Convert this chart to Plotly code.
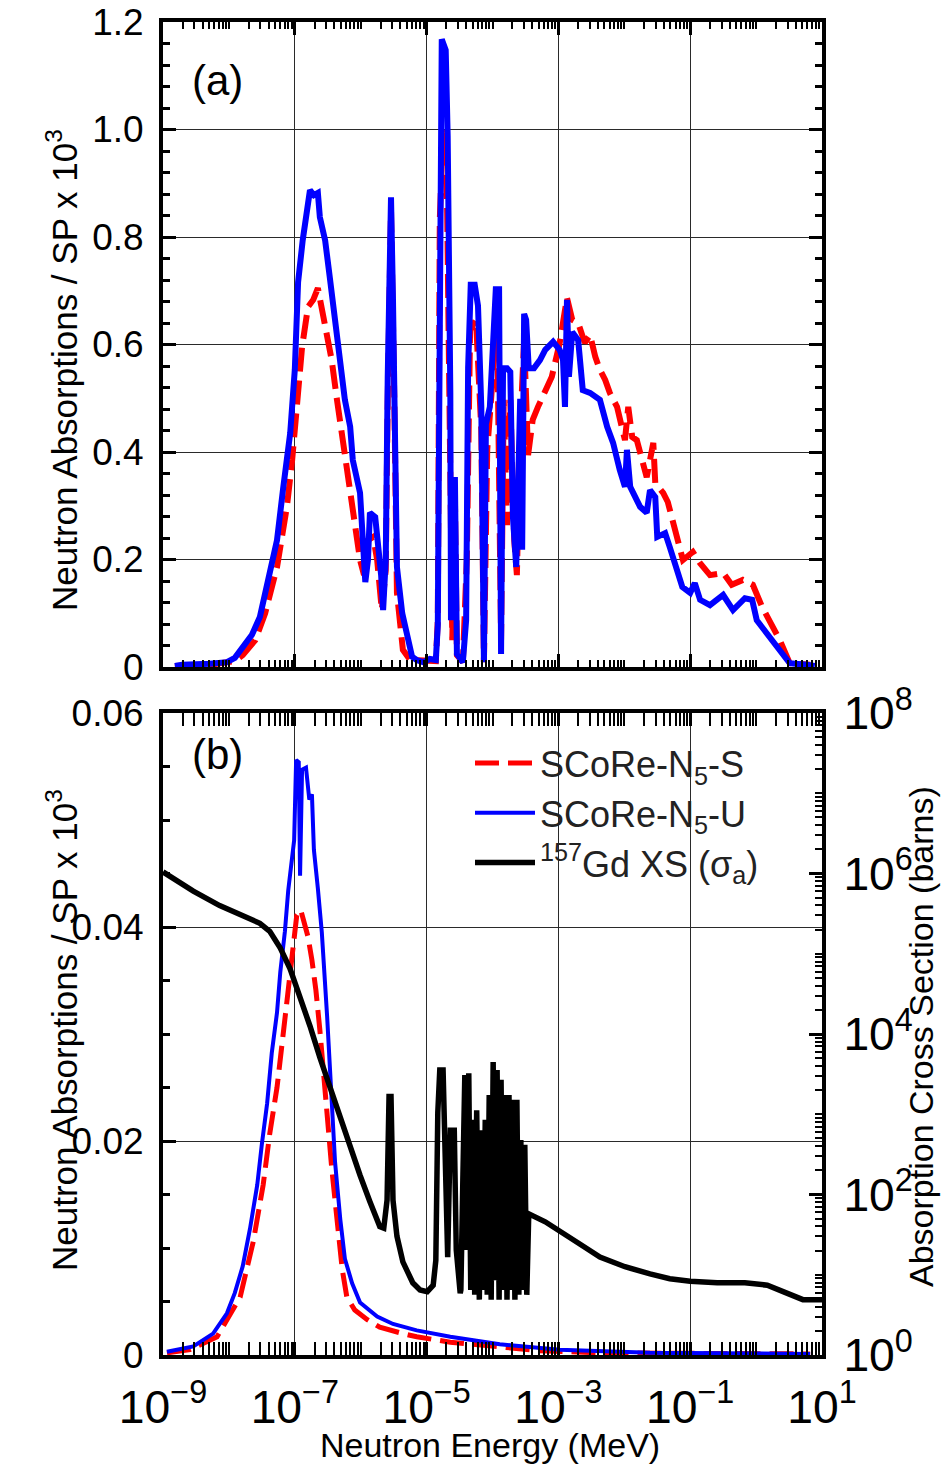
import numpy as np
import plotly.graph_objects as go

# ---------------- data (log10 of neutron energy in MeV) ----------------
# Panel (a): SCoRe-N5-U (blue)
top_u_logE = [-8.82,-8.71,-8.29,-8.03,-7.91,-7.79,-7.65,-7.53,-7.41,-7.27,-7.18,-7.07,-7.00,-6.95,-6.88,-6.77,-6.71,-6.65,-6.62,-6.54,
              -6.47,-6.39,-6.31,-6.24,-6.16,-6.12,-6.01,-5.97,-5.93,-5.89,-5.86,-5.78,-5.74,-5.69,-5.66,-5.62,-5.59,-5.54,-5.51,-5.48,
              -5.45,-5.37,-5.30,-5.22,-5.15,-5.05,-4.95,-4.86,-4.83,-4.80,-4.77,-4.71,-4.68,-4.64,-4.63,-4.60,-4.57,-4.54,-4.45,-4.40,
              -4.37,-4.33,-4.27,-4.22,-4.17,-4.13,-4.10,-4.04,-3.99,-3.95,-3.90,-3.87,-3.84,-3.78,-3.73,-3.69,-3.64,-3.61,-3.58,-3.55,
              -3.52,-3.49,-3.45,-3.37,-3.28,-3.20,-3.08,-2.98,-2.93,-2.90,-2.87,-2.84,-2.79,-2.70,-2.63,-2.52,-2.37,-2.26,-2.17,-2.07,
              -1.99,-1.96,-1.91,-1.76,-1.66,-1.61,-1.53,-1.50,-1.38,-1.31,-1.20,-1.12,-1.00,-0.93,-0.85,-0.70,-0.50,-0.35,-0.17,-0.06,
              0.01,0.21,0.36,0.51,0.77,0.89]
top_u_val = [0.002,0.004,0.006,0.009,0.017,0.037,0.060,0.093,0.162,0.236,0.329,0.435,0.553,0.716,0.794,0.887,0.878,0.882,0.837,0.794,
             0.726,0.640,0.571,0.497,0.447,0.385,0.324,0.236,0.158,0.199,0.287,0.279,0.236,0.171,0.106,0.199,0.540,0.874,0.683,0.465,
             0.186,0.100,0.056,0.019,0.013,0.009,0.015,0.013,0.078,0.683,1.168,1.148,0.988,0.510,0.087,0.348,0.348,0.024,0.009,0.087,
             0.556,0.711,0.711,0.672,0.484,0.009,0.452,0.484,0.618,0.703,0.703,0.024,0.556,0.556,0.549,0.279,0.186,0.311,0.499,0.218,
             0.657,0.646,0.556,0.556,0.571,0.590,0.605,0.590,0.571,0.484,0.683,0.540,0.623,0.608,0.515,0.510,0.497,0.447,0.417,0.367,
             0.335,0.404,0.335,0.298,0.287,0.329,0.316,0.242,0.249,0.223,0.175,0.149,0.138,0.156,0.125,0.115,0.134,0.106,0.128,0.125,
             0.087,0.056,0.032,0.007,0.004,0.002]

# Panel (a): SCoRe-N5-S (red dashed)
top_s_logE = [-8.82,-8.29,-7.91,-7.79,-7.60,-7.45,-7.27,-7.12,-7.04,-6.95,-6.89,-6.80,-6.72,-6.65,-6.57,-6.50,-6.44,-6.36,-6.24,-6.12,
              -6.01,-5.95,-5.89,-5.81,-5.75,-5.68,-5.62,-5.59,-5.54,-5.49,-5.45,-5.36,-5.25,-4.86,-4.83,-4.80,-4.75,-4.69,-4.64,-4.61,
              -4.57,-4.54,-4.45,-4.39,-4.34,-4.25,-4.17,-4.13,-4.08,-3.99,-3.93,-3.87,-3.83,-3.78,-3.73,-3.67,-3.63,-3.58,-3.52,-3.46,
              -3.39,-3.31,-3.25,-3.17,-3.10,-2.98,-2.87,-2.79,-2.70,-2.60,-2.52,-2.44,-2.37,-2.29,-2.22,-2.11,-2.07,-1.99,-1.94,-1.88,
              -1.81,-1.73,-1.66,-1.61,-1.56,-1.53,-1.41,-1.34,-1.23,-1.19,-1.11,-1.03,-0.96,-0.85,-0.70,-0.50,-0.37,-0.20,-0.05,0.09,
              0.26,0.36,0.51,0.82]
top_s_val = [0.002,0.004,0.011,0.022,0.050,0.100,0.186,0.298,0.385,0.510,0.595,0.670,0.683,0.705,0.659,0.608,0.571,0.497,0.398,0.305,
             0.199,0.171,0.236,0.242,0.199,0.106,0.180,0.497,0.850,0.497,0.138,0.032,0.013,0.011,0.087,0.832,0.999,0.869,0.404,0.050,
             0.311,0.022,0.009,0.199,0.627,0.646,0.441,0.009,0.404,0.571,0.646,0.050,0.497,0.264,0.497,0.236,0.171,0.441,0.608,0.394,
             0.460,0.484,0.500,0.527,0.540,0.603,0.687,0.646,0.640,0.603,0.618,0.577,0.553,0.534,0.510,0.484,0.465,0.422,0.484,0.428,
             0.422,0.385,0.353,0.385,0.417,0.342,0.324,0.307,0.255,0.236,0.199,0.207,0.214,0.193,0.171,0.175,0.153,0.162,0.153,0.112,
             0.074,0.050,0.007,0.004]

# Panel (b): SCoRe-N5-U (blue)
bot_u_logE = [-8.94,-8.54,-8.24,-8.03,-7.91,-7.79,-7.68,-7.57,-7.50,-7.42,-7.35,-7.27,-7.22,-7.15,-7.10,-7.04,-7.01,-6.98,-6.94,-6.92,
              -6.89,-6.83,-6.78,-6.74,-6.71,-6.65,-6.59,-6.51,-6.44,-6.39,-6.31,-6.24,-6.13,-6.01,-5.75,-5.51,-5.15,-4.64,-3.89,-2.98,
              -1.61,0.82]
bot_u_val = [0.0003,0.0008,0.0020,0.0039,0.0058,0.0083,0.0118,0.0159,0.0197,0.0235,0.0282,0.0320,0.0358,0.0396,0.0434,0.0463,0.0481,0.0556,0.0554,0.0448,
             0.0547,0.0549,0.0519,0.0524,0.0472,0.0436,0.0395,0.0317,0.0238,0.0181,0.0127,0.0090,0.0067,0.0049,0.0036,0.0029,0.0023,0.0017,0.0010,0.0005,
             0.0002,0.0001]

# Panel (b): SCoRe-N5-S (red dashed)
bot_s_logE = [-8.94,-8.59,-8.18,-7.83,-7.63,-7.48,-7.38,-7.27,-7.18,-7.10,-7.03,-6.97,-6.91,-6.85,-6.80,-6.74,-6.68,-6.62,-6.56,-6.50,
              -6.44,-6.36,-6.28,-6.21,-6.09,-5.90,-5.71,-5.36,-5.15,-4.64,-3.89,-3.28,-2.37,0.82]
bot_s_val = [0.0002,0.0005,0.0017,0.0054,0.0106,0.0159,0.0207,0.0250,0.0298,0.0339,0.0371,0.0411,0.0416,0.0402,0.0391,0.0369,0.0341,0.0304,0.0262,0.0210,
             0.0175,0.0127,0.0080,0.0054,0.0042,0.0033,0.0026,0.0020,0.0017,0.0012,0.0007,0.0004,0.0002,0.0001]

# Panel (b): 157Gd absorption cross section, log10(barns)
xs_logE = [-9.00,-8.54,-8.14,-7.79,-7.53,-7.38,-7.22,-7.07,-6.92,-6.77,-6.62,-6.47,-6.31,-6.16,-6.01,-5.86,-5.71,-5.65,-5.60,-5.57,
           -5.54,-5.51,-5.45,-5.36,-5.21,-5.10,-4.99,-4.90,-4.86,-4.83,-4.80,-4.75,-4.71,-4.68,-4.64,-4.58,-4.55,-4.49,
           -4.48,-4.45,-4.42,-4.39,-4.36,-4.33,-4.30,-4.27,-4.24,-4.20,-4.17,-4.14,-4.11,-4.08,-4.05,-4.02,-3.99,-3.96,-3.93,-3.90,
           -3.87,-3.84,-3.81,-3.78,-3.75,-3.72,-3.69,-3.66,-3.63,-3.60,-3.57,-3.54,-3.51,-3.48,-3.45,
           -3.20,-2.98,-2.67,-2.37,-1.99,-1.61,-1.31,-1.00,-0.59,-0.17,0.17,0.41,0.71,1.00]
xs_log_barns = [6.02,5.78,5.60,5.48,5.38,5.28,5.07,4.81,4.47,4.10,3.71,3.34,2.97,2.58,2.24,1.91,1.60,1.58,1.93,3.22,
                3.22,1.93,1.48,1.16,0.90,0.81,0.79,0.87,1.18,3.02,3.55,3.55,1.93,1.22,2.80,2.80,1.31,0.77,
                0.81,2.18,3.49,1.31,3.51,0.81,2.93,0.75,3.05,0.69,2.80,0.81,2.93,0.75,3.24,0.69,3.65,0.93,3.55,0.69,
                3.43,0.81,3.24,0.69,3.24,0.81,3.18,0.69,3.18,0.75,2.68,0.81,2.62,0.75,1.76,
                1.66,1.55,1.38,1.22,1.10,1.01,0.95,0.92,0.90,0.90,0.87,0.79,0.69,0.69]

names = ["SCoRe-N<sub>5</sub>-S", "SCoRe-N<sub>5</sub>-U", "<sup>157</sup>Gd XS (σ<sub>a</sub>)"]

def E(lst):
    return 10.0 ** np.array(lst)

RED, BLUE, BLACK = "#FF0000", "#0000FF", "#000000"
DASH = "24px,9px"
FONT = "Arial, Liberation Sans, sans-serif"

# page has an 8px body margin: figure is sized to fit inside the 950x1473 window
W, H, M = 934, 1457, 8
def px(sx):  # window pixel -> paper x
    return (sx - M) / W
def py(sy):  # window pixel -> paper y
    return 1 - (sy - M) / H

fig = go.Figure()
# panel (a)
fig.add_trace(go.Scatter(x=E(top_s_logE), y=top_s_val, mode="lines", line=dict(color=RED, width=6, dash=DASH),
                         showlegend=False, xaxis="x", yaxis="y"))
fig.add_trace(go.Scatter(x=E(top_u_logE), y=top_u_val, mode="lines", line=dict(color=BLUE, width=6),
                         showlegend=False, xaxis="x", yaxis="y"))
# panel (b)
fig.add_trace(go.Scatter(x=E(bot_s_logE), y=bot_s_val, mode="lines", name=names[0],
                         line=dict(color=RED, width=5, dash=DASH), xaxis="x2", yaxis="y2"))
fig.add_trace(go.Scatter(x=E(bot_u_logE), y=bot_u_val, mode="lines", name=names[1],
                         line=dict(color=BLUE, width=4), xaxis="x2", yaxis="y2"))
fig.add_trace(go.Scatter(x=E(xs_logE), y=E(xs_log_barns), mode="lines", name=names[2],
                         line=dict(color=BLACK, width=5.5), xaxis="x2", yaxis="y3"))

XDOM = [px(163), px(822)]
TOPDOM = [py(667), py(22)]
BOTDOM = [py(1355), py(713)]

common = dict(showline=True, linewidth=4, linecolor="black", ticks="inside", ticklen=13, tickwidth=3,
              tickcolor="black", zeroline=False, gridcolor="#2a2a2a", gridwidth=1.3, automargin=False,
              ticklabeloverflow="allow",
              tickfont=dict(family=FONT, size=37, color="black"))
pow_alias = {"10": "10<sup>1</sup>", "1": "10<sup>0</sup>"}
xlog = dict(type="log", range=[-9, 1], dtick=2, tick0=1, exponentformat="power", showgrid=True,
            mirror="allticks", domain=XDOM, labelalias=pow_alias,
            minor=dict(ticks="inside", ticklen=7, tickwidth=2, tickcolor="black", dtick="D1", showgrid=False))

fig.update_layout(
    width=W, height=H, margin=dict(l=0, r=0, t=0, b=0, autoexpand=False),
    paper_bgcolor="white", plot_bgcolor="white",
    font=dict(family=FONT, color="black"),
    xaxis=dict(**common, **xlog, anchor="y", showticklabels=False),
    yaxis=dict(**common, domain=TOPDOM, anchor="x", range=[0, 1.2], dtick=0.2, tick0=0, mirror="allticks",
               labelalias={"1": "1.0"}, ticklabelstandoff=8,
               minor=dict(ticks="inside", ticklen=7, tickwidth=3, tickcolor="black", dtick=0.04, showgrid=False)),
    xaxis2=dict(**common, **xlog, anchor="y2", showticklabels=True, ticklabelstandoff=10),
    yaxis2=dict(**common, domain=BOTDOM, anchor="x2", range=[0, 0.06], dtick=0.02, tick0=0, mirror=True,
                ticklabelstandoff=8,
                minor=dict(ticks="inside", ticklen=7, tickwidth=3, tickcolor="black", dtick=0.005, showgrid=False)),
    yaxis3=dict(**common, overlaying="y2", side="right", anchor="x2", type="log", range=[0, 8], dtick=2, tick0=0,
                exponentformat="power", showgrid=False, ticklabelstandoff=10, labelalias=pow_alias,
                minor=dict(ticks="inside", ticklen=7, tickwidth=2, tickcolor="black", dtick="D1", showgrid=False)),
    legend=dict(x=px(470), y=py(733), xanchor="left", yanchor="top", bgcolor="rgba(0,0,0,0)",
                font=dict(family=FONT, size=36, color="#222"), itemwidth=60, tracegroupgap=0),
)

ann = [
    dict(text="Neutron Absorptions / SP x 10<sup>3</sup>", x=px(62), y=py(370), textangle=-90, font=dict(size=35)),
    dict(text="Neutron Absorptions / SP x 10<sup>3</sup>", x=px(62), y=py(1030), textangle=-90, font=dict(size=35)),
    dict(text="Absorption Cross Section (barns)", x=px(921), y=py(1037), textangle=-90, font=dict(size=34)),
    dict(text="Neutron Energy (MeV)", x=px(490), y=py(1445), font=dict(size=34)),
    dict(text="(a)", x=px(217), y=py(80), font=dict(size=42)),
    dict(text="(b)", x=px(217), y=py(755), font=dict(size=42)),
]
for a in ann:
    a.update(xref="paper", yref="paper", showarrow=False, xanchor="center", yanchor="middle")
    a["font"].update(family=FONT, color="black")
fig.update_layout(annotations=ann)

fig.write_html("out.html")
